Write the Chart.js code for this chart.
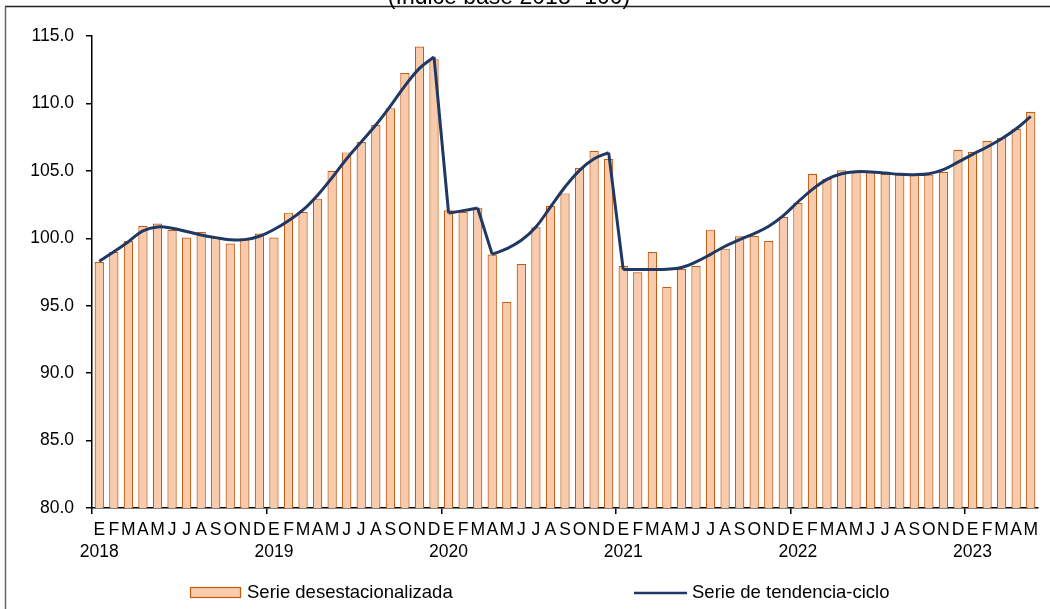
<!DOCTYPE html>
<html lang="es">
<head>
<meta charset="utf-8">
<title>Serie desestacionalizada y de tendencia-ciclo</title>
<script src="https://cdn.jsdelivr.net/npm/chart.js@4.4.1/dist/chart.umd.min.js"></script>
<style>
    html, body { margin: 0; padding: 0; background: #fff; }
    #wrap { width: 1050px; height: 609px; position: relative; }
</style>
</head>
<body>
<div id="wrap"><canvas id="grafica"></canvas></div>
<script>
// --- DATOS ---
const meses = ['E', 'F', 'M', 'A', 'M', 'J', 'J', 'A', 'S', 'O', 'N', 'D'];
const anios = ['2018', '2019', '2020', '2021', '2022', '2023'];

// Serie desestacionalizada (ene 2018 - may 2023)
const desestacionalizada = [
    98.24, 98.99, 99.80, 100.91, 101.09, 100.62, 100.05, 100.49, 100.05, 99.61, 100.00, 100.35,
    100.05, 101.90, 101.95, 102.94, 105.01, 106.37, 107.14, 108.40, 109.65, 112.25, 114.22, 113.28,
    102.07, 101.95, 102.27, 98.79, 95.28, 98.10, 100.81, 102.39, 103.33, 105.21, 106.47, 105.90,
    97.95, 97.48, 98.99, 96.39, 97.73, 97.95, 100.64, 99.23, 100.15, 100.17, 99.80, 101.58,
    102.64, 104.79, 104.42, 105.04, 104.94, 104.92, 104.79, 104.72, 104.79, 104.72, 104.92, 106.57,
    106.42, 107.21, 107.43, 108.12, 109.38
];

// Serie de tendencia-ciclo
const tendencia = [
    98.30, 99.00, 99.75, 100.55, 100.84, 100.75, 100.50, 100.25, 100.05, 99.90, 99.90, 100.15,
    100.65, 101.30, 102.10, 103.20, 104.50, 105.90, 107.15, 108.40, 109.80, 111.30, 112.60, 113.45,
    101.87, 102.05, 102.25, 98.81, 99.23, 99.85, 100.84, 102.32, 103.80, 105.04, 105.90, 106.35,
    97.68, 97.68, 97.68, 97.70, 97.83, 98.25, 98.81, 99.41, 99.90, 100.35, 100.89, 101.68,
    102.69, 103.63, 104.37, 104.79, 104.94, 104.92, 104.84, 104.74, 104.72, 104.79, 105.09, 105.65,
    106.22, 106.77, 107.38, 108.12, 109.04
];

// Meses donde la tendencia empieza un tramo nuevo (quiebres)
const cortesTendencia = [24, 27, 36];

// Ticks del eje Y
const ejeYMin = 80;
const ejeYMax = 115;
const ejeYPaso = 5;

// --- ARMADO ---
const etiquetas = desestacionalizada.map((_, i) =>
    i % 12 === 0 ? [meses[i % 12], anios[i / 12]] : meses[i % 12]
);

// tramos suaves alternados + uniones rectas entre tramos
const tramo = i => cortesTendencia.filter(c => c <= i).length;
const tendenciaPar = tendencia.map((v, i) => tramo(i) % 2 === 0 ? v : null);
const tendenciaImpar = tendencia.map((v, i) => tramo(i) % 2 === 1 ? v : null);
const tendenciaUniones = tendencia.map((v, i) =>
    (cortesTendencia.includes(i) || cortesTendencia.includes(i + 1)) ? v : null
);

const AZUL = '#1F3864';
const FUENTE = "'Liberation Sans', Arial, sans-serif";

const lineaBase = {
    type: 'line',
    borderColor: AZUL,
    borderWidth: 3,
    pointRadius: 0,
    fill: false,
    spanGaps: false,
    order: 1
};

// fondo, marco, titulo cortado y leyenda
const decoracion = {
    id: 'decoracion',
    beforeDraw(chart) {
        const c = chart.ctx;
        c.save();
        c.fillStyle = '#fff';
        c.fillRect(0, 0, chart.width, chart.height);
        c.restore();
    },
    afterDraw(chart) {
        const c = chart.ctx;
        c.save();
        // marco
        c.lineWidth = 1.5;
        c.strokeStyle = '#222';
        c.beginPath(); c.moveTo(5, 6.5); c.lineTo(chart.width, 6.5); c.stroke();
        c.strokeStyle = '#666';
        c.beginPath(); c.moveTo(5.5, 6.5); c.lineTo(5.5, chart.height); c.stroke();

        // titulo (solo asoma por arriba)
        c.fillStyle = '#000';
        c.font = '23px ' + FUENTE;
        c.textAlign = 'center';
        c.textBaseline = 'alphabetic';
        c.fillText('(Índice base 2018=100)', 509, 4);

        // leyenda
        c.font = '18.5px ' + FUENTE;
        c.textAlign = 'left';
        c.textBaseline = 'middle';
        c.fillStyle = '#F8CBAD';
        c.fillRect(190, 587, 51, 11);
        c.strokeStyle = '#C55A11';
        c.lineWidth = 1.2;
        c.strokeRect(190.5, 587.5, 50, 10);
        c.fillStyle = '#000';
        c.fillText('Serie desestacionalizada', 247, 593);

        c.strokeStyle = AZUL;
        c.lineWidth = 2.5;
        c.beginPath(); c.moveTo(634, 593); c.lineTo(687, 593); c.stroke();
        c.fillText('Serie de tendencia-ciclo', 692, 593);
        c.restore();
    }
};

const ctx = document.getElementById('grafica').getContext('2d');
new Chart(ctx, {
    type: 'bar',
    data: {
        labels: etiquetas,
        datasets: [
            {
                label: 'Serie desestacionalizada',
                data: desestacionalizada,
                backgroundColor: '#F8CBAD',
                borderColor: '#C55A11',
                borderWidth: 1.2,
                categoryPercentage: 1,
                barPercentage: 0.64,
                order: 2
            },
            Object.assign({ label: 'Serie de tendencia-ciclo', data: tendenciaPar, tension: 0.4 }, lineaBase),
            Object.assign({ label: 'tendencia-b', data: tendenciaImpar, tension: 0.4 }, lineaBase),
            Object.assign({ label: 'tendencia-uniones', data: tendenciaUniones, tension: 0 }, lineaBase)
        ]
    },
    options: {
        responsive: true,
        maintainAspectRatio: false,
        devicePixelRatio: 1,
        animation: false,
        layout: { padding: { top: 36, right: 12, bottom: 0, left: 0 } },
        plugins: {
            legend: { display: false },
            tooltip: { enabled: false },
            title: { display: false }
        },
        scales: {
            x: {
                offset: true,
                afterFit: s => { s.height = 101; },
                border: { color: '#000', width: 1.5 },
                grid: {
                    offset: true,
                    drawOnChartArea: false,
                    drawTicks: true,
                    tickLength: 6,
                    lineWidth: 1.5,
                    color: c => (c.index !== undefined && c.index % 12 === 0) ? '#000' : 'rgba(0,0,0,0)'
                },
                ticks: {
                    autoSkip: false,
                    maxRotation: 0,
                    minRotation: 0,
                    padding: 5,
                    color: '#000',
                    font: { family: FUENTE, size: 17.5, lineHeight: 1.27 }
                }
            },
            y: {
                min: ejeYMin,
                max: ejeYMax,
                afterFit: s => { s.width = 92; },
                border: { color: '#000', width: 1.5 },
                grid: {
                    drawOnChartArea: false,
                    drawTicks: true,
                    tickLength: 6,
                    lineWidth: 1.5,
                    color: '#000'
                },
                ticks: {
                    stepSize: ejeYPaso,
                    padding: 12,
                    color: '#000',
                    font: { family: FUENTE, size: 17.5 },
                    callback: v => v.toFixed(1)
                }
            }
        }
    },
    plugins: [decoracion]
});
</script>
</body>
</html>
